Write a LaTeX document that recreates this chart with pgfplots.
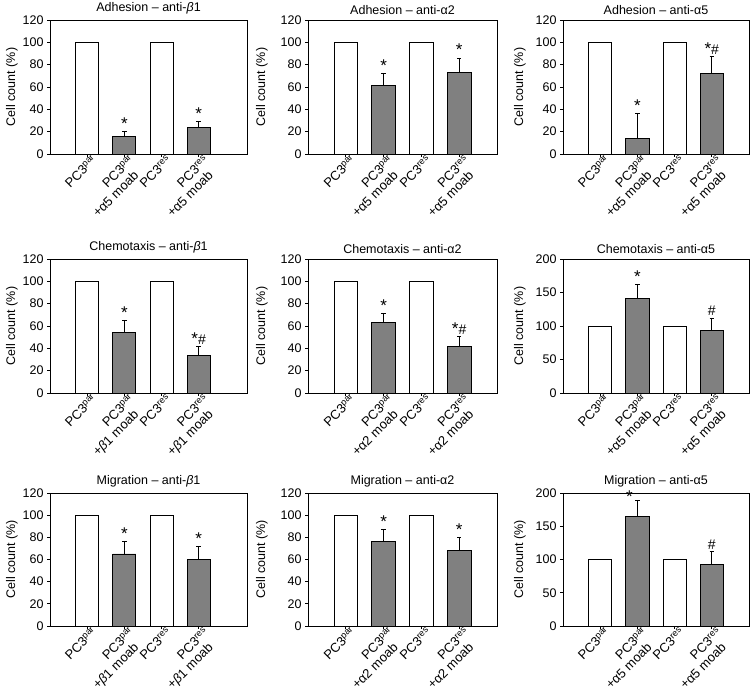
\documentclass[border=0pt]{standalone}
\usepackage{pgfplots}
\pgfplotsset{compat=1.18}
\usepackage{fontspec}
\setmainfont{Liberation Sans}
\definecolor{barg}{HTML}{808080}
\newcommand{\PCp}{PC3\textsuperscript{par}}
\newcommand{\PCr}{PC3\textsuperscript{res}}
\newcommand{\lt}[1]{#1\hspace*{8pt}}
\newcommand{\st}{{\fontsize{17}{17}\selectfont *}}
\newcommand{\hs}{{\fontsize{14}{14}\selectfont \#}}
\tikzset{lab/.style={anchor=base, yshift=2pt, inner sep=0pt, font=\fontsize{12.5}{14}\selectfont}}
\pgfplotsset{
 panel/.style={scale only axis, anchor=south west, clip=false,
   xmin=0, xmax=5, ymin=0, ymax=120, ytick={0,20,...,120}, xtick={1,2,3,4},
   tick pos=left, tick align=outside, major tick length=3pt,
   axis line style={line width=0.8pt},
   every tick/.style={black, line width=0.7pt},
   font=\fontsize{12.5}{14}\selectfont,
   /pgf/number format/assume math mode=true,
   ylabel={Cell count (\%)},
   ylabel style={yshift=-2pt},
   xticklabel style={rotate=45, anchor=north east, align=right, inner sep=1pt, xshift=6pt, font=\fontsize{13}{14}\selectfont},
   title style={yshift=-4pt}},
 big/.style={ymax=200, ytick={0,50,...,200}},
 wbar/.style={ybar, bar width=0.62, bar shift=0pt, fill=white, draw=black, line width=0.8pt},
 gbar/.style={ybar, bar width=0.62, bar shift=0pt, fill=barg, draw=black, line width=0.8pt,
   error bars/.cd, y dir=plus, y explicit,
   error bar style={black, line width=0.7pt},
   error mark options={rotate=90, black, mark size=2.2pt, line width=0.7pt}},
 c1/.style={width=197pt, xmax=5.3},
 c2/.style={width=189pt, ylabel shift=8pt},
 c3/.style={width=186pt, ylabel shift=5pt},
}
\begin{document}
\begin{tikzpicture}
\path[use as bounding box] (0,0) rectangle (750pt,695pt);
% ---------- Row 1: Adhesion ----------
\begin{axis}[panel, c1, height=134pt, at={(50pt,541pt)},
  title={Adhesion – anti-\textit{β}1},
  xticklabels={\PCp, {\PCp\\\lt{+α5 moab}}, \PCr, {\PCr\\\lt{+α5 moab}}}]
\addplot[wbar] coordinates {(1,100) (3,100)};
\addplot[gbar] coordinates {(2,16) +- (0,4) (4,24) +- (0,5)};
\node[lab] at (axis cs:2,20) {\st};
\node[lab] at (axis cs:4,29) {\st};
\end{axis}
\begin{axis}[panel, c2, height=134pt, at={(308pt,541pt)},
  title={Adhesion – anti-α2},
  xticklabels={\PCp, {\PCp\\\lt{+α5 moab}}, \PCr, {\PCr\\\lt{+α5 moab}}}]
\addplot[wbar] coordinates {(1,100) (3,100)};
\addplot[gbar] coordinates {(2,61) +- (0,11) (4,73) +- (0,13)};
\node[lab] at (axis cs:2,72) {\st};
\node[lab] at (axis cs:4,86) {\st};
\end{axis}
\begin{axis}[panel, c3, height=134pt, at={(563pt,541pt)},
  title={Adhesion – anti-α5},
  xticklabels={\PCp, {\PCp\\\lt{+α5 moab}}, \PCr, {\PCr\\\lt{+α5 moab}}}]
\addplot[wbar] coordinates {(1,100) (3,100)};
\addplot[gbar] coordinates {(2,14) +- (0,22) (4,72) +- (0,15)};
\node[lab] at (axis cs:2,36) {\st};
\node[lab] at (axis cs:4,87) {\st\hs};
\end{axis}
% ---------- Row 2: Chemotaxis ----------
\begin{axis}[panel, c1, height=134pt, at={(50pt,302pt)},
  title={Chemotaxis – anti-\textit{β}1},
  xticklabels={\PCp, {\PCp\\\lt{+\textit{β}1 moab}}, \PCr, {\PCr\\\lt{+\textit{β}1 moab}}}]
\addplot[wbar] coordinates {(1,100) (3,100)};
\addplot[gbar] coordinates {(2,54) +- (0,11) (4,34) +- (0,8)};
\node[lab] at (axis cs:2,65) {\st};
\node[lab] at (axis cs:4,42) {\st\hs};
\end{axis}
\begin{axis}[panel, c2, height=134pt, at={(308pt,302pt)},
  title={Chemotaxis – anti-α2},
  xticklabels={\PCp, {\PCp\\\lt{+α2 moab}}, \PCr, {\PCr\\\lt{+α2 moab}}}]
\addplot[wbar] coordinates {(1,100) (3,100)};
\addplot[gbar] coordinates {(2,63) +- (0,8) (4,42) +- (0,9)};
\node[lab] at (axis cs:2,71) {\st};
\node[lab] at (axis cs:4,51) {\st\hs};
\end{axis}
\begin{axis}[panel, big, c3, height=134pt, at={(563pt,302pt)},
  title={Chemotaxis – anti-α5},
  xticklabels={\PCp, {\PCp\\\lt{+α5 moab}}, \PCr, {\PCr\\\lt{+α5 moab}}}]
\addplot[wbar] coordinates {(1,100) (3,100)};
\addplot[gbar] coordinates {(2,141) +- (0,21) (4,94) +- (0,18)};
\node[lab] at (axis cs:2,162) {\st};
\node[lab] at (axis cs:4,112) {\hs};
\end{axis}
% ---------- Row 3: Migration ----------
\begin{axis}[panel, c1, height=133pt, at={(50pt,69pt)},
  title={Migration – anti-\textit{β}1},
  xticklabels={\PCp, {\PCp\\\lt{+\textit{β}1 moab}}, \PCr, {\PCr\\\lt{+\textit{β}1 moab}}}]
\addplot[wbar] coordinates {(1,100) (3,100)};
\addplot[gbar] coordinates {(2,65) +- (0,11) (4,60) +- (0,12)};
\node[lab] at (axis cs:2,76) {\st};
\node[lab] at (axis cs:4,72) {\st};
\end{axis}
\begin{axis}[panel, c2, height=133pt, at={(308pt,69pt)},
  title={Migration – anti-α2},
  xticklabels={\PCp, {\PCp\\\lt{+α2 moab}}, \PCr, {\PCr\\\lt{+α2 moab}}}]
\addplot[wbar] coordinates {(1,100) (3,100)};
\addplot[gbar] coordinates {(2,76) +- (0,11) (4,68) +- (0,12)};
\node[lab] at (axis cs:2,87) {\st};
\node[lab] at (axis cs:4,80) {\st};
\end{axis}
\begin{axis}[panel, big, c3, height=133pt, at={(563pt,69pt)},
  title={Migration – anti-α5},
  xticklabels={\PCp, {\PCp\\\lt{+α5 moab}}, \PCr, {\PCr\\\lt{+α5 moab}}}]
\addplot[wbar] coordinates {(1,100) (3,100)};
\addplot[gbar] coordinates {(2,165) +- (0,24) (4,93) +- (0,19)};
\node[lab, xshift=-8pt] at (axis cs:2,183) {\st};
\node[lab] at (axis cs:4,112) {\hs};
\end{axis}
\end{tikzpicture}
\end{document}
